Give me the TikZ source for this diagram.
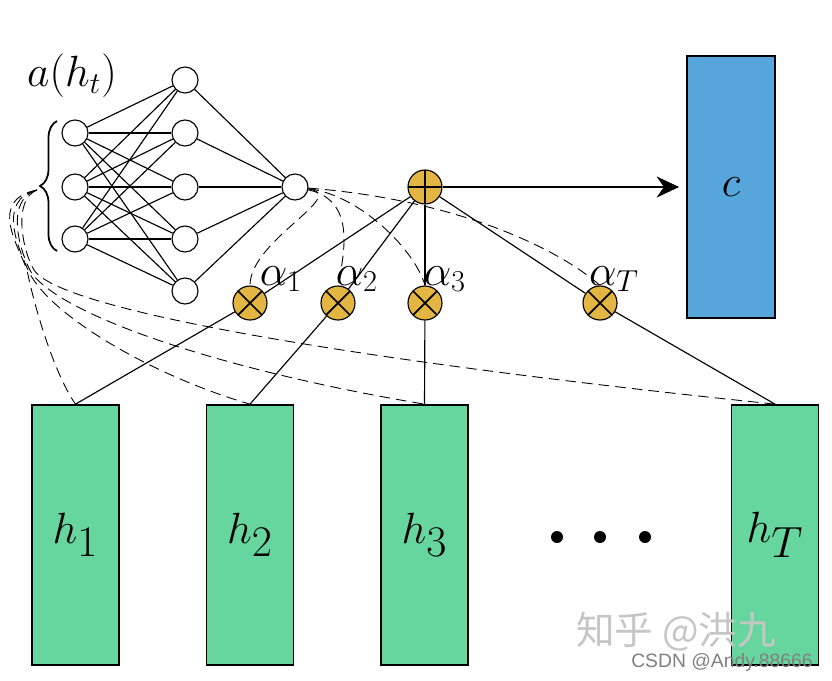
\documentclass[tikz,border=0pt]{standalone}
\usepackage{fontspec}
\newfontfamily\cjk{Noto Sans CJK SC}
\newfontfamily\wmfont{Liberation Sans}
\usetikzlibrary{positioning, arrows.meta, decorations.pathreplacing}
\definecolor{gold}{RGB}{227,181,66}
\definecolor{boxgreen}{RGB}{102,214,158}
\definecolor{boxblue}{RGB}{86,166,220}
\tikzset{
neuron/.style={circle, draw, fill=white, minimum size=0.52cm, inner sep=0pt}, % units of the scoring net
opnode/.style={circle, draw, fill=gold, minimum size=0.68cm, inner sep=0pt}, % sum and product nodes
plusnode/.style={opnode, path picture={\draw[line width=1pt] (path picture bounding box.north) -- (path picture bounding box.south) (path picture bounding box.west) -- (path picture bounding box.east);}},
timesnode/.style={opnode, path picture={\draw[line width=1pt] (path picture bounding box.north west) -- (path picture bounding box.south east) (path picture bounding box.south west) -- (path picture bounding box.north east);}},
hbox/.style={draw, line width=1pt, fill=boxgreen, minimum width=1.74cm, minimum height=5.2cm, inner sep=0pt, font=\fontsize{37}{42}\selectfont},
dashcurve/.style={line width=0.5pt, dash pattern=on 6pt off 3.5pt},
alphalabel/.style={font=\fontsize{24}{28}\selectfont},
}
\begin{document}
\begin{tikzpicture}[x=0.02cm, y=-0.02cm, line width=0.65pt]
\useasboundingbox (0,0) rectangle (832,680);

% scoring network a(h_t)
\foreach \i/\y in {1/133,2/187,3/239}
    \node[neuron] (in\i) at (75,\y) {};
\foreach \j/\y in {1/80,2/133,3/187,4/239,5/291}
    \node[neuron] (hid\j) at (185,\y) {};
\node[neuron] (out) at (295,187) {};
\foreach \i in {1,2,3}
    \foreach \j in {1,...,5}
        \draw (in\i) -- (hid\j);
\foreach \j in {1,...,5}
    \draw (hid\j) -- (out);
\node[font=\fontsize{23}{27}\selectfont] (alab) at (72,76) {$a(h_t)$};
\draw[decorate, decoration={brace, amplitude=0.34cm}, line width=1pt] (57,251) -- (57,121);
\coordinate (tip) at (37,190);

% encoder states
\node[hbox] (h1) at (75.5,535) {$h_1$};
\node[hbox] (h2) at (250,535) {$h_2$};
\node[hbox] (h3) at (424.5,535) {$h_3$};
\node[hbox] (hT) at (775,535) {$h_T$};
\foreach \x in {557,600,645}
    \fill (\x,537) circle (0.12cm);

% weighting and sum
\node[plusnode] (sum) at (425,187) {};
\node[timesnode] (m1) at (250,303) {};
\node[timesnode] (m2) at (338,303) {};
\node[timesnode] (m3) at (425,303) {};
\node[timesnode] (mT) at (600,303) {};
\node[alphalabel] (a1) at (281,279) {$\alpha_1$};
\node[alphalabel] (a2) at (357,279) {$\alpha_2$};
\node[alphalabel] (a3) at (445,279) {$\alpha_3$};
\node[alphalabel] (aT) at (614,279) {$\alpha_T$};
\foreach \m/\h in {m1/h1,m2/h2,m3/h3,mT/hT}{
    \draw (sum) -- (\m);
    \draw (\m) -- (\h.north);
}

% context vector
\node[draw, line width=1pt, fill=boxblue, minimum width=1.76cm, minimum height=5.24cm, inner sep=0pt, font=\fontsize{36}{40}\selectfont] (c) at (731,187) {$c$};
\draw[line width=1.2pt, -{Stealth[length=0.45cm, width=0.42cm]}, shorten >=0.14cm] (sum) -- (c);

% dashed flows
\draw[dashcurve] (out) .. controls (350,195) and (250,240) .. (m1.north);
\draw[dashcurve] (out) .. controls (355,200) and (345,250) .. (m2.north);
\draw[dashcurve] (out) .. controls (360,195) and (415,250) .. (m3.north);
\draw[dashcurve] (out) .. controls (460,200) and (560,250) .. (mT.north);
\draw[dashcurve] (tip) .. controls (-12,200) and (18,245) .. (27,270)
    .. controls (35,310) and (55,375) .. (h1.north);
\draw[dashcurve] (tip) .. controls (-4,200) and (19,250) .. (29,272)
    .. controls (50,315) and (150,375) .. (h2.north);
\draw[dashcurve] (tip) .. controls (4,200) and (20,252) .. (31,272)
    .. controls (60,315) and (220,370) .. (h3.north);
\draw[dashcurve] (tip) .. controls (12,200) and (23,252) .. (34,270)
    .. controls (60,310) and (350,360) .. (hT.north);

% watermark
\node[text=gray!45, font=\cjk\fontsize{22}{24}\selectfont] (wm1) at (676,632) {知乎 @洪九};
\node[text=gray, font=\wmfont\fontsize{11}{12}\selectfont] (wm2) at (722,662) {CSDN @Andy.88666};
\end{tikzpicture}
\end{document}
